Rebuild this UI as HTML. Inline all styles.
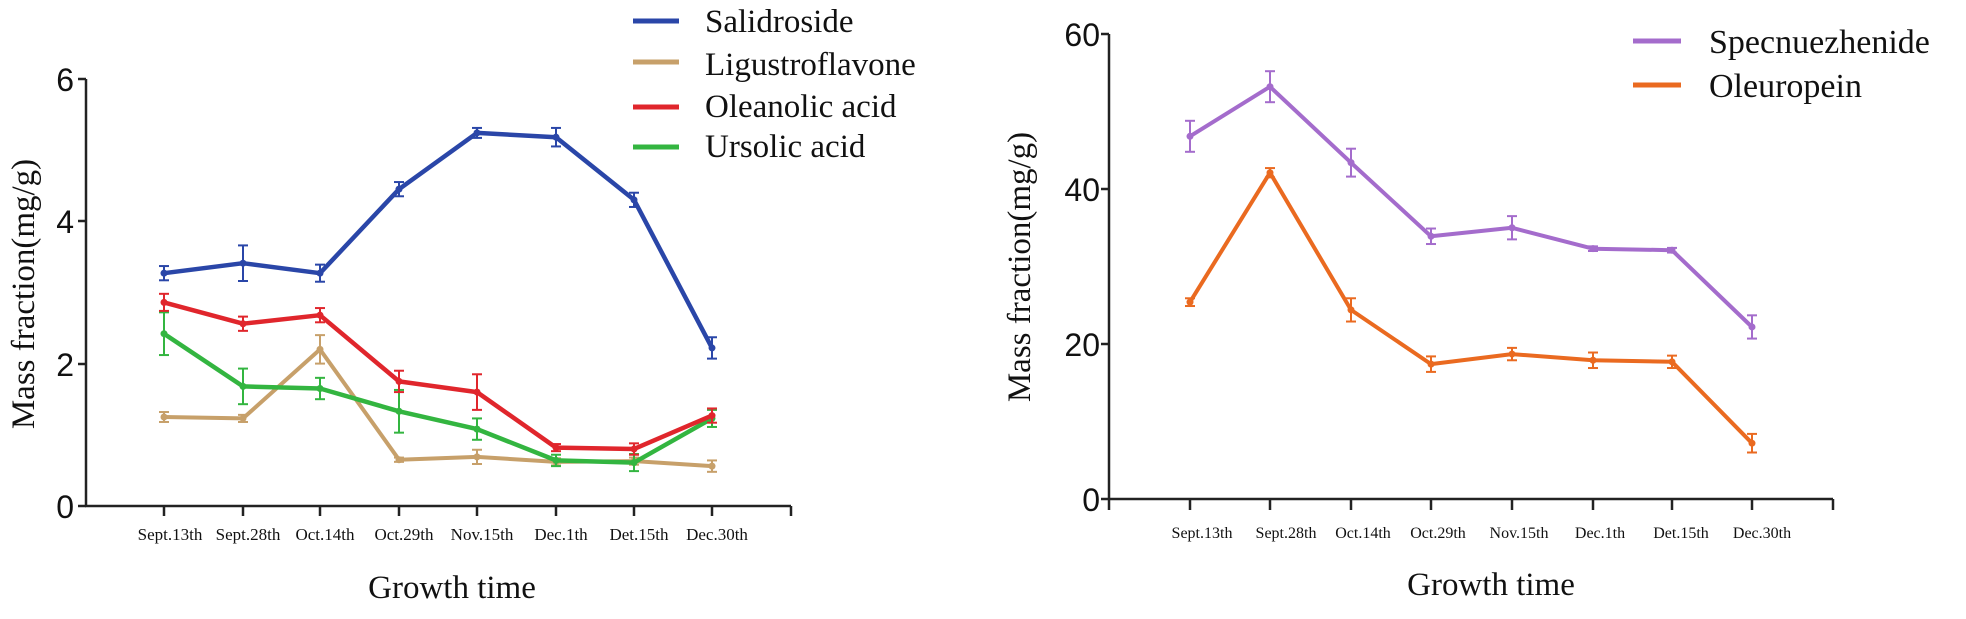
<!DOCTYPE html>
<html><head><meta charset="utf-8"><style>
html,body{margin:0;padding:0;background:#fff;}
svg{display:block;}
.t{font-family:"Liberation Serif",serif;fill:#111;}
.n{font-family:"Liberation Sans",sans-serif;fill:#111;}
</style></head><body>
<svg id="s" width="1966" height="619" viewBox="0 0 1966 619" xmlns="http://www.w3.org/2000/svg">
<rect width="1966" height="619" fill="#fff"/>
<g stroke="#222" stroke-width="2.5" fill="none">
<line x1="86" y1="79" x2="86" y2="506"/>
<line x1="85" y1="506" x2="791" y2="506"/>
<line x1="78" y1="79" x2="86" y2="79"/><line x1="78" y1="221" x2="86" y2="221"/><line x1="78" y1="364" x2="86" y2="364"/><line x1="78" y1="506" x2="86" y2="506"/>
<line x1="164" y1="506" x2="164" y2="516"/><line x1="243" y1="506" x2="243" y2="516"/><line x1="320" y1="506" x2="320" y2="516"/><line x1="399" y1="506" x2="399" y2="516"/><line x1="477" y1="506" x2="477" y2="516"/><line x1="556" y1="506" x2="556" y2="516"/><line x1="634" y1="506" x2="634" y2="516"/><line x1="712" y1="506" x2="712" y2="516"/><line x1="791" y1="506" x2="791" y2="516"/>
</g>
<g class="n" font-size="32" text-anchor="end">
<text x="74" y="91">6</text><text x="74" y="233">4</text><text x="74" y="376">2</text><text x="74" y="518">0</text>
</g>
<g class="t" font-size="17" text-anchor="middle">
<text x="170" y="540">Sept.13th</text><text x="248" y="540">Sept.28th</text><text x="325" y="540">Oct.14th</text><text x="404" y="540">Oct.29th</text><text x="482" y="540">Nov.15th</text><text x="561" y="540">Dec.1th</text><text x="639" y="540">Det.15th</text><text x="717" y="540">Dec.30th</text>
</g>
<text class="t" x="452" y="598" font-size="33" text-anchor="middle">Growth time</text>
<text class="t" font-size="33" text-anchor="middle" transform="translate(34,294) rotate(-90)">Mass fraction(mg/g)</text>
<g stroke-width="5">
<line x1="633" y1="21" x2="679" y2="21" stroke="#2a46a8"/>
<line x1="633" y1="62" x2="679" y2="62" stroke="#c7a06a"/>
<line x1="633" y1="107" x2="679" y2="107" stroke="#e0262c"/>
<line x1="633" y1="147" x2="679" y2="147" stroke="#33b540"/>
</g>
<g class="t" font-size="33">
<text x="705" y="32">Salidroside</text><text x="705" y="75">Ligustroflavone</text><text x="705" y="117">Oleanolic acid</text><text x="705" y="157">Ursolic acid</text>
</g>
<g stroke="#222" stroke-width="2.5" fill="none">
<line x1="1109" y1="34" x2="1109" y2="499"/>
<line x1="1108" y1="499" x2="1833" y2="499"/>
<line x1="1101" y1="34" x2="1109" y2="34"/><line x1="1101" y1="189" x2="1109" y2="189"/><line x1="1101" y1="344" x2="1109" y2="344"/><line x1="1101" y1="499" x2="1109" y2="499"/>
<line x1="1109" y1="499" x2="1109" y2="510"/>
<line x1="1190" y1="499" x2="1190" y2="510"/><line x1="1270" y1="499" x2="1270" y2="510"/><line x1="1351" y1="499" x2="1351" y2="510"/><line x1="1431" y1="499" x2="1431" y2="510"/><line x1="1512" y1="499" x2="1512" y2="510"/><line x1="1593" y1="499" x2="1593" y2="510"/><line x1="1672" y1="499" x2="1672" y2="510"/><line x1="1752" y1="499" x2="1752" y2="510"/><line x1="1833" y1="499" x2="1833" y2="510"/>
</g>
<g class="n" font-size="32" text-anchor="end">
<text x="1100" y="46">60</text><text x="1100" y="201">40</text><text x="1100" y="356">20</text><text x="1100" y="511">0</text>
</g>
<g class="t" font-size="16" text-anchor="middle">
<text x="1202" y="538">Sept.13th</text><text x="1286" y="538">Sept.28th</text><text x="1363" y="538">Oct.14th</text><text x="1438" y="538">Oct.29th</text><text x="1519" y="538">Nov.15th</text><text x="1600" y="538">Dec.1th</text><text x="1681" y="538">Det.15th</text><text x="1762" y="538">Dec.30th</text>
</g>
<text class="t" x="1491" y="595" font-size="33" text-anchor="middle">Growth time</text>
<text class="t" font-size="33" text-anchor="middle" transform="translate(1030,267) rotate(-90)">Mass fraction(mg/g)</text>
<g stroke-width="5">
<line x1="1633" y1="41" x2="1681" y2="41" stroke="#a46ccc"/>
<line x1="1633" y1="85" x2="1681" y2="85" stroke="#ea6a20"/>
</g>
<g class="t" font-size="34">
<text x="1709" y="53">Specnuezhenide</text><text x="1709" y="97">Oleuropein</text>
</g>
<g id="data"></g>
</svg>
<script>
var g=document.getElementById('data'),NS='http://www.w3.org/2000/svg';
function el(n,a){var e=document.createElementNS(NS,n);for(var k in a)e.setAttribute(k,a[k]);g.appendChild(e);return e;}
function series(xs,y0,py,vals,errs,col,w){
 var pts=vals.map(function(v,i){return xs[i]+','+(y0-v*py).toFixed(1)});
 el('polyline',{points:pts.join(' '),fill:'none',stroke:col,'stroke-width':w,'stroke-linejoin':'round'});
 vals.forEach(function(v,i){var x=xs[i],y1=y0-(v+errs[i])*py,y2=y0-(v-errs[i])*py;
  el('line',{x1:x,x2:x,y1:y1,y2:y2,stroke:col,'stroke-width':2});
  el('line',{x1:x-5,x2:x+5,y1:y1,y2:y1,stroke:col,'stroke-width':2});
  el('line',{x1:x-5,x2:x+5,y1:y2,y2:y2,stroke:col,'stroke-width':2});
  el('circle',{cx:x,cy:y0-v*py,r:3.5,fill:col});});
}
var LX=[164,243,320,399,477,556,634,712];
series(LX,506,71.2,[1.25,1.23,2.2,0.65,0.69,0.62,0.63,0.56],[0.07,0.05,0.2,0.03,0.1,0.05,0.05,0.08],'#c7a06a',4);
series(LX,506,71.2,[2.42,1.68,1.65,1.33,1.08,0.64,0.61,1.23],[0.3,0.25,0.15,0.3,0.15,0.08,0.12,0.12],'#33b540',4.5);
series(LX,506,71.2,[2.86,2.56,2.68,1.75,1.6,0.82,0.8,1.27],[0.12,0.1,0.1,0.15,0.25,0.05,0.08,0.1],'#e0262c',4.5);
series(LX,506,71.2,[3.27,3.41,3.27,4.45,5.24,5.18,4.3,2.22],[0.1,0.25,0.12,0.1,0.07,0.13,0.1,0.15],'#2a46a8',4.5);
var RX=[1190,1270,1351,1431,1512,1593,1672,1752];
series(RX,499,7.75,[46.8,53.2,43.4,33.9,35,32.3,32.1,22.2],[2,2,1.8,1,1.5,0.3,0.3,1.5],'#a46ccc',4);
series(RX,499,7.75,[25.4,42.1,24.4,17.4,18.7,17.9,17.7,7.2],[0.5,0.6,1.5,1,0.8,1,0.8,1.2],'#ea6a20',4);
</script>
</body></html>
